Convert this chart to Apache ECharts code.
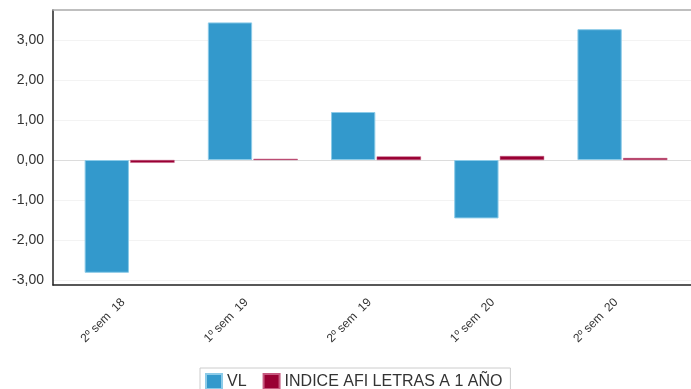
<!DOCTYPE html>
<html>
<head>
<meta charset="utf-8">
<script src="https://cdn.jsdelivr.net/npm/echarts@6/dist/echarts.min.js"></script>
<style>
  html, body { margin: 0; padding: 0; background: #fff; }
  #chart { width: 691px; height: 389px; }
</style>
</head>
<body>
<div id="chart"></div>
<script>
// Semester labels and returns (%)
const categories = ['2º sem  18', '1º sem  19', '2º sem  19', '1º sem  20', '2º sem  20'];
const vlValues = [-2.82, 3.44, 1.20, -1.46, 3.27];
const indexValues = [-0.07, 0.03, 0.09, 0.10, 0.05];
const yTickValues = [-3, -2, -1, 0, 1, 2, 3];

const Y_MIN = -3.125, Y_MAX = 3.75;
const fmt = v => v.toFixed(2).replace('.', ',');

const chart = echarts.init(document.getElementById('chart'), null, { renderer: 'canvas' });

const gridColors = yTickValues.map(v => (v === 0 ? '#dcdcdc' : '#f3f3f3'));

chart.setOption({
  animation: false,
  textStyle: { fontFamily: 'Liberation Sans, Arial, sans-serif' },
  grid: [
    { left: 53, right: 0, top: 10, bottom: 104 },
    { left: 68, right: 7, top: 10, bottom: 104 }
  ],
  xAxis: [
    { gridIndex: 0, type: 'value', position: 'bottom', min: 0, max: 1,
      axisLine: { show: true, onZero: false, lineStyle: { color: '#222', width: 1.5 } },
      axisTick: { show: false }, axisLabel: { show: false }, splitLine: { show: false } },
    { gridIndex: 0, type: 'value', position: 'top', min: 0, max: 1,
      axisLine: { show: true, onZero: false, lineStyle: { color: '#aaa', width: 1.5 } },
      axisTick: { show: false }, axisLabel: { show: false }, splitLine: { show: false } },
    { gridIndex: 1, type: 'category', data: categories,
      axisLine: { show: false }, axisTick: { show: false },
      axisLabel: { rotate: 45, margin: 9, padding: [0, 9, 0, 0], fontSize: 12, color: '#333', interval: 0 } }
  ],
  yAxis: [
    { gridIndex: 0, type: 'value', min: Y_MIN, max: Y_MAX,
      axisLine: { show: true, onZero: false, lineStyle: { color: '#222', width: 1.5 } },
      axisTick: { show: false, customValues: yTickValues },
      axisLabel: { customValues: yTickValues, formatter: fmt, fontSize: 14, color: '#333', margin: 9 },
      splitLine: { show: true, lineStyle: { color: gridColors, width: 1 } } },
    { gridIndex: 1, type: 'value', min: Y_MIN, max: Y_MAX, show: false,
      splitLine: { show: false } }
  ],
  legend: {
    left: 200, top: 368,
    padding: [5, 8, 5, 5],
    borderColor: '#ccc', borderWidth: 1,
    itemWidth: 16, itemHeight: 15, itemGap: 16,
    icon: 'rect',
    textStyle: { fontSize: 16, color: '#333' },
    data: ['VL', 'INDICE AFI LETRAS A 1 AÑO']
  },
  series: [
    { name: 'VL', type: 'bar', xAxisIndex: 2, yAxisIndex: 1,
      data: vlValues, barCategoryGap: '27%', barGap: '3%',
      itemStyle: { color: '#3399cc', borderColor: '#8ccbe8', borderWidth: 1 } },
    { name: 'INDICE AFI LETRAS A 1 AÑO', type: 'bar', xAxisIndex: 2, yAxisIndex: 1,
      data: indexValues, barCategoryGap: '27%', barGap: '3%',
      itemStyle: { color: '#990033', borderColor: '#c75a80', borderWidth: 0.5 } }
  ]
});
</script>
</body>
</html>
